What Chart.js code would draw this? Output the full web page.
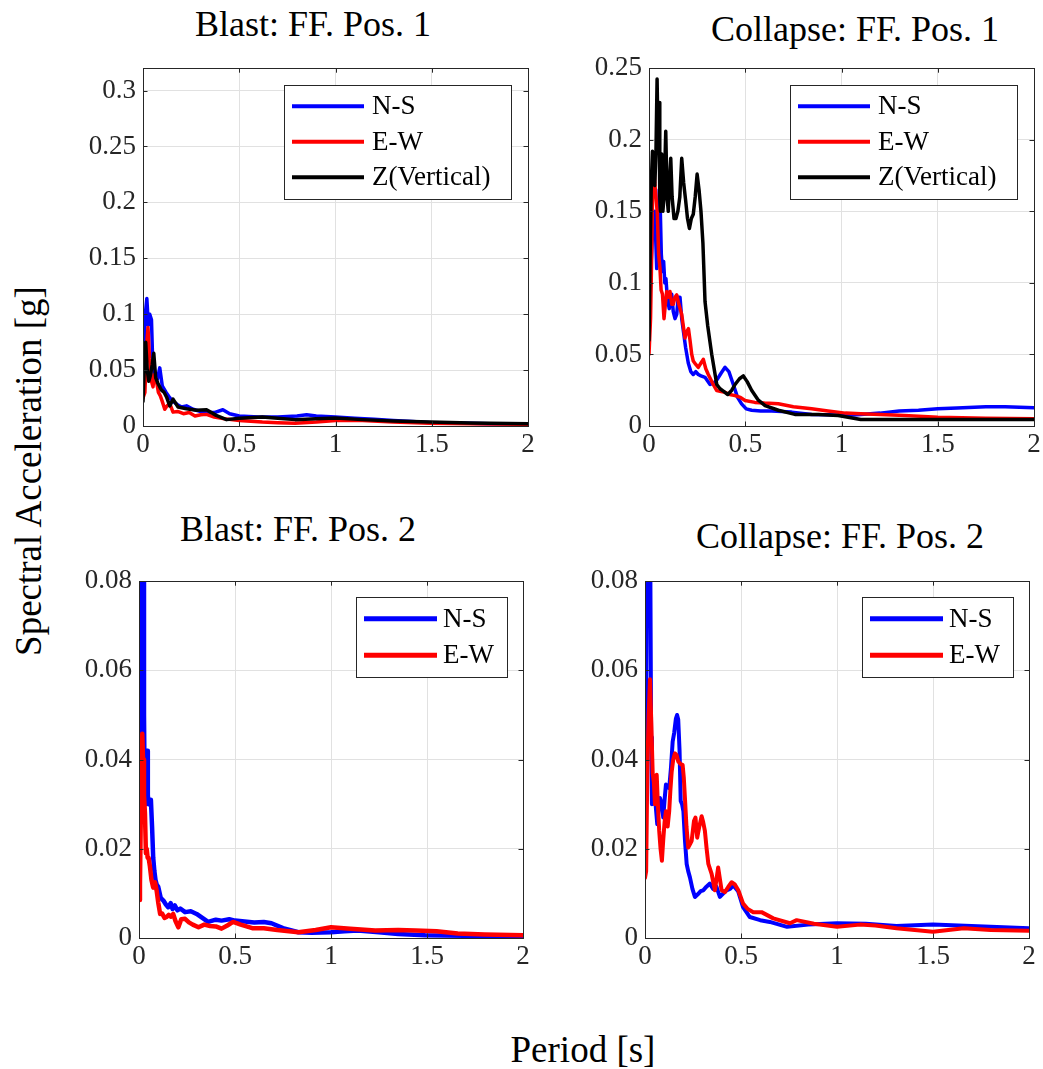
<!DOCTYPE html>
<html><head><meta charset="utf-8">
<script src="https://cdn.jsdelivr.net/npm/chart.js@4.4.1/dist/chart.umd.min.js"></script>
<style>
html,body{margin:0;padding:0;background:#fff;}
body{width:1043px;height:1069px;overflow:hidden;position:relative;font-family:"Liberation Serif","Times New Roman",serif;}
canvas{position:absolute;}
.t{position:absolute;font-size:36px;line-height:36px;white-space:nowrap;color:#000;transform:translateX(-50%);}
.ax{position:absolute;font-size:37px;line-height:37px;white-space:nowrap;color:#000;}
</style></head><body>
<div class="t" style="left:313px;top:6px">Blast: FF. Pos. 1</div>
<div class="t" style="left:855px;top:11px">Collapse: FF. Pos. 1</div>
<div class="t" style="left:298px;top:511px">Blast: FF. Pos. 2</div>
<div class="t" style="left:840px;top:518px">Collapse: FF. Pos. 2</div>
<div class="ax" style="left:28px;top:471px;transform:translate(-50%,-50%) rotate(-90deg)">Spectral Acceleration [g]</div>
<div class="ax" style="left:583px;top:1031px;transform:translateX(-50%)">Period [s]</div>
<script>
// ---------- tick labels ----------
const xTicks = [0, 0.5, 1, 1.5, 2];
const xTickLabels = ['0', '0.5', '1', '1.5', '2'];
const yTicksB1 = [0, 0.05, 0.1, 0.15, 0.2, 0.25, 0.3];
const yTickLabelsB1 = ['0', '0.05', '0.1', '0.15', '0.2', '0.25', '0.3'];
const yTicksC1 = [0, 0.05, 0.1, 0.15, 0.2, 0.25];
const yTickLabelsC1 = ['0', '0.05', '0.1', '0.15', '0.2', '0.25'];
const yTicksP2 = [0, 0.02, 0.04, 0.06, 0.08];
const yTickLabelsP2 = ['0', '0.02', '0.04', '0.06', '0.08'];
const seriesNames = ['N-S', 'E-W', 'Z(Vertical)'];

// ---------- Blast: FF. Pos. 1 ----------
const b1NS_T = [0, 0.005, 0.012, 0.02, 0.028, 0.035, 0.044, 0.05, 0.058, 0.066, 0.075, 0.087, 0.1, 0.12, 0.14, 0.156, 0.18, 0.2, 0.226, 0.26, 0.3, 0.33, 0.37, 0.415, 0.45, 0.5, 0.6, 0.7, 0.8, 0.85, 0.9, 1.0, 1.1, 1.2, 1.3, 1.4, 1.5, 1.6, 1.7, 1.8, 1.9, 2.0];
const b1NS_Sa = [0.045, 0.06, 0.1, 0.114, 0.09, 0.1, 0.095, 0.06, 0.045, 0.045, 0.042, 0.052, 0.036, 0.03, 0.025, 0.022, 0.019, 0.017, 0.018, 0.015, 0.013, 0.012, 0.012, 0.0145, 0.011, 0.009, 0.008, 0.008, 0.009, 0.010, 0.009, 0.008, 0.007, 0.006, 0.005, 0.004, 0.003, 0.003, 0.0025, 0.002, 0.002, 0.002];
const b1EW_T = [0, 0.01, 0.018, 0.026, 0.034, 0.044, 0.052, 0.06, 0.07, 0.08, 0.09, 0.1, 0.113, 0.125, 0.139, 0.156, 0.18, 0.21, 0.24, 0.27, 0.3, 0.33, 0.37, 0.416, 0.5, 0.62, 0.7, 0.79, 0.9, 1.0, 1.14, 1.3, 1.49, 1.7, 2.0];
const b1EW_Sa = [0.025, 0.03, 0.07, 0.088, 0.06, 0.04, 0.035, 0.046, 0.04, 0.03, 0.027, 0.022, 0.015, 0.018, 0.02, 0.0124, 0.013, 0.011, 0.012, 0.009, 0.01, 0.0104, 0.008, 0.0066, 0.005, 0.0035, 0.003, 0.0024, 0.0035, 0.005, 0.005, 0.0035, 0.0024, 0.002, 0.0015];
const b1Z_T = [0, 0.006, 0.014, 0.022, 0.03, 0.038, 0.048, 0.056, 0.066, 0.078, 0.096, 0.11, 0.122, 0.139, 0.156, 0.182, 0.226, 0.278, 0.33, 0.38, 0.434, 0.5, 0.62, 0.7, 0.79, 0.9, 1.0, 1.14, 1.3, 1.49, 1.7, 2.0];
const b1Z_Sa = [0.022, 0.05, 0.075, 0.05, 0.04, 0.045, 0.055, 0.065, 0.043, 0.038, 0.032, 0.03, 0.026, 0.018, 0.024, 0.017, 0.0154, 0.014, 0.0145, 0.0095, 0.0057, 0.007, 0.008, 0.007, 0.0057, 0.0065, 0.0071, 0.0057, 0.0045, 0.0035, 0.0027, 0.002];

// ---------- Collapse: FF. Pos. 1 ----------
const c1NS_T = [0, 0.01, 0.02, 0.03, 0.04, 0.047, 0.053, 0.058, 0.064, 0.07, 0.076, 0.082, 0.088, 0.095, 0.105, 0.112, 0.118, 0.126, 0.135, 0.144, 0.152, 0.161, 0.17, 0.18, 0.19, 0.204, 0.217, 0.23, 0.243, 0.256, 0.27, 0.291, 0.317, 0.335, 0.352, 0.375, 0.395, 0.415, 0.438, 0.46, 0.481, 0.505, 0.533, 0.58, 0.637, 0.741, 0.845, 0.93, 1.02, 1.1, 1.2, 1.3, 1.4, 1.5, 1.6, 1.75, 1.85, 2.0];
const c1NS_Sa = [0.06, 0.11, 0.14, 0.15, 0.11, 0.13, 0.165, 0.155, 0.12, 0.108, 0.115, 0.1, 0.103, 0.09, 0.082, 0.088, 0.092, 0.08, 0.075, 0.078, 0.09, 0.09, 0.075, 0.065, 0.055, 0.044, 0.038, 0.036, 0.038, 0.036, 0.035, 0.034, 0.029, 0.03, 0.032, 0.037, 0.041, 0.038, 0.029, 0.02, 0.0155, 0.012, 0.011, 0.0105, 0.0104, 0.0097, 0.0081, 0.0078, 0.0074, 0.008, 0.009, 0.0105, 0.011, 0.012, 0.0125, 0.0135, 0.0135, 0.0127];
const c1EW_T = [0, 0.008, 0.014, 0.02, 0.025, 0.03, 0.036, 0.043, 0.05, 0.057, 0.063, 0.07, 0.078, 0.085, 0.092, 0.1, 0.109, 0.118, 0.126, 0.135, 0.144, 0.155, 0.17, 0.178, 0.187, 0.196, 0.205, 0.213, 0.222, 0.23, 0.243, 0.256, 0.27, 0.282, 0.295, 0.308, 0.33, 0.352, 0.375, 0.395, 0.42, 0.447, 0.475, 0.499, 0.55, 0.6, 0.672, 0.75, 0.845, 0.93, 1.02, 1.1, 1.3, 1.5, 1.75, 2.0];
const c1EW_Sa = [0.05, 0.075, 0.12, 0.175, 0.187, 0.17, 0.16, 0.149, 0.12, 0.11, 0.095, 0.092, 0.075, 0.085, 0.094, 0.09, 0.094, 0.085, 0.085, 0.09, 0.0916, 0.085, 0.078, 0.07, 0.0615, 0.066, 0.068, 0.06, 0.05, 0.0454, 0.043, 0.041, 0.044, 0.0466, 0.04, 0.036, 0.03, 0.0247, 0.024, 0.0235, 0.022, 0.0212, 0.02, 0.0178, 0.0165, 0.016, 0.0155, 0.0135, 0.012, 0.0105, 0.009, 0.0086, 0.0075, 0.0062, 0.0055, 0.005];
const c1Z_T = [0, 0.006, 0.012, 0.018, 0.024, 0.03, 0.036, 0.042, 0.047, 0.052, 0.056, 0.06, 0.066, 0.072, 0.078, 0.087, 0.094, 0.1, 0.106, 0.113, 0.12, 0.13, 0.14, 0.15, 0.16, 0.17, 0.18, 0.19, 0.2, 0.21, 0.22, 0.23, 0.24, 0.25, 0.26, 0.27, 0.28, 0.291, 0.305, 0.326, 0.352, 0.369, 0.39, 0.409, 0.43, 0.447, 0.47, 0.49, 0.51, 0.533, 0.568, 0.603, 0.672, 0.758, 0.88, 0.983, 1.1, 1.3, 1.5, 1.75, 2.0];
const c1Z_Sa = [0.06, 0.12, 0.17, 0.192, 0.17, 0.168, 0.19, 0.2425, 0.2, 0.226, 0.16, 0.15, 0.19, 0.15, 0.16, 0.206, 0.16, 0.15, 0.17, 0.187, 0.16, 0.145, 0.145, 0.15, 0.16, 0.187, 0.17, 0.158, 0.145, 0.138, 0.145, 0.148, 0.16, 0.176, 0.165, 0.15, 0.128, 0.087, 0.07, 0.05, 0.029, 0.026, 0.024, 0.022, 0.025, 0.029, 0.033, 0.035, 0.031, 0.025, 0.018, 0.0143, 0.011, 0.0081, 0.0081, 0.0074, 0.0046, 0.0046, 0.0046, 0.0046, 0.0046];

// ---------- Blast: FF. Pos. 2 ----------
const b2NS_T = [0, 0.004, 0.008, 0.012, 0.018, 0.022, 0.026, 0.03, 0.034, 0.038, 0.042, 0.046, 0.05, 0.056, 0.062, 0.068, 0.074, 0.08, 0.086, 0.092, 0.1, 0.113, 0.127, 0.14, 0.152, 0.165, 0.175, 0.187, 0.2, 0.215, 0.24, 0.27, 0.3, 0.33, 0.36, 0.4, 0.43, 0.47, 0.5, 0.55, 0.6, 0.65, 0.69, 0.75, 0.83, 0.9, 1.0, 1.07, 1.14, 1.25, 1.35, 1.49, 1.7, 2.0];
const b2NS_Sa = [0.0175, 0.03, 0.06, 0.1, 0.115, 0.09, 0.05, 0.031, 0.03, 0.042, 0.042, 0.032, 0.03, 0.031, 0.031, 0.025, 0.018, 0.015, 0.013, 0.012, 0.0115, 0.009, 0.0084, 0.0075, 0.0069, 0.0078, 0.0065, 0.0073, 0.0062, 0.0066, 0.0058, 0.006, 0.0054, 0.0045, 0.0036, 0.0041, 0.0039, 0.0042, 0.0039, 0.0037, 0.0035, 0.0036, 0.0033, 0.0022, 0.0013, 0.0012, 0.0013, 0.0015, 0.0017, 0.0013, 0.0009, 0.0006, 0.0005, 0.0005];
const b2EW_T = [0, 0.005, 0.01, 0.014, 0.017, 0.021, 0.026, 0.031, 0.036, 0.04, 0.045, 0.05, 0.057, 0.065, 0.074, 0.083, 0.092, 0.1, 0.11, 0.12, 0.133, 0.144, 0.155, 0.165, 0.178, 0.19, 0.205, 0.22, 0.24, 0.26, 0.28, 0.31, 0.34, 0.37, 0.4, 0.43, 0.46, 0.49, 0.53, 0.59, 0.65, 0.72, 0.83, 0.92, 1.0, 1.1, 1.23, 1.35, 1.44, 1.55, 1.66, 1.8, 2.0];
const b2EW_Sa = [0.0085, 0.012, 0.03, 0.042, 0.0458, 0.04, 0.032, 0.028, 0.019, 0.02, 0.018, 0.018, 0.016, 0.013, 0.0113, 0.0125, 0.0106, 0.008, 0.0054, 0.0055, 0.0045, 0.0047, 0.0052, 0.0048, 0.0054, 0.0038, 0.0024, 0.0042, 0.0043, 0.0035, 0.003, 0.0024, 0.003, 0.0027, 0.0026, 0.0021, 0.0028, 0.0036, 0.003, 0.0022, 0.0022, 0.0018, 0.0013, 0.0018, 0.0024, 0.0021, 0.0017, 0.0018, 0.0017, 0.0015, 0.001, 0.0008, 0.0006];

// ---------- Collapse: FF. Pos. 2 ----------
const c2NS_T = [0, 0.006, 0.012, 0.02, 0.027, 0.032, 0.036, 0.041, 0.047, 0.055, 0.064, 0.071, 0.078, 0.087, 0.095, 0.102, 0.109, 0.118, 0.126, 0.135, 0.144, 0.152, 0.161, 0.167, 0.173, 0.18, 0.186, 0.193, 0.2, 0.208, 0.217, 0.225, 0.234, 0.247, 0.26, 0.275, 0.29, 0.303, 0.32, 0.338, 0.355, 0.372, 0.39, 0.408, 0.425, 0.443, 0.46, 0.485, 0.51, 0.546, 0.6, 0.65, 0.74, 0.85, 1.0, 1.15, 1.31, 1.5, 1.7, 2.0];
const c2NS_Sa = [0.0225, 0.05, 0.1, 0.12, 0.09, 0.045, 0.03, 0.035, 0.0344, 0.03, 0.0255, 0.029, 0.0314, 0.03, 0.027, 0.031, 0.0344, 0.034, 0.0336, 0.038, 0.044, 0.046, 0.0492, 0.05, 0.049, 0.042, 0.0307, 0.03, 0.0284, 0.022, 0.0166, 0.015, 0.0136, 0.011, 0.0092, 0.0098, 0.0105, 0.0107, 0.0115, 0.0122, 0.011, 0.0115, 0.0092, 0.01, 0.0107, 0.011, 0.0118, 0.0105, 0.007, 0.0047, 0.004, 0.0036, 0.0025, 0.003, 0.0033, 0.0032, 0.0027, 0.003, 0.0027, 0.0022];
const c2EW_T = [0, 0.006, 0.012, 0.019, 0.026, 0.033, 0.04, 0.046, 0.052, 0.061, 0.067, 0.074, 0.081, 0.088, 0.095, 0.102, 0.109, 0.118, 0.126, 0.132, 0.139, 0.147, 0.156, 0.165, 0.173, 0.185, 0.196, 0.202, 0.208, 0.216, 0.225, 0.234, 0.243, 0.255, 0.263, 0.272, 0.283, 0.295, 0.303, 0.312, 0.321, 0.33, 0.347, 0.364, 0.381, 0.399, 0.416, 0.434, 0.451, 0.468, 0.486, 0.511, 0.535, 0.564, 0.607, 0.668, 0.755, 0.79, 0.88, 1.0, 1.12, 1.2, 1.31, 1.5, 1.66, 1.8, 2.0];
const c2EW_Sa = [0.0135, 0.015, 0.037, 0.05, 0.058, 0.048, 0.037, 0.035, 0.03, 0.0366, 0.03, 0.024, 0.02, 0.0173, 0.022, 0.026, 0.0284, 0.025, 0.0284, 0.033, 0.0373, 0.04, 0.0414, 0.041, 0.0396, 0.039, 0.0388, 0.036, 0.0314, 0.025, 0.0203, 0.021, 0.0218, 0.0262, 0.027, 0.0225, 0.025, 0.0273, 0.026, 0.024, 0.02, 0.0166, 0.0144, 0.0107, 0.0158, 0.0107, 0.0103, 0.0115, 0.0125, 0.012, 0.0107, 0.0077, 0.0065, 0.0058, 0.0058, 0.0044, 0.0033, 0.004, 0.0032, 0.0025, 0.003, 0.0028, 0.0022, 0.0014, 0.0022, 0.0018, 0.0016];

// ---------- drawing ----------
const FONT = '"Liberation Serif", "Times New Roman", serif';
const AXC = '#262626';
const COLORS = ['#0000ff', '#ff0000', '#000000'];

function pts(T, S) { return T.map((t, i) => ({ x: t, y: S[i] })); }

const framePlugin = {
  id: 'frame',
  afterDraw(chart, args, opts) {
    const { ctx, chartArea: a, scales } = chart;
    ctx.save();
    ctx.strokeStyle = AXC;
    ctx.lineWidth = 1;
    ctx.beginPath();
    const tl = 4.5;
    scales.x.ticks.forEach(t => {
      const px = Math.round(scales.x.getPixelForValue(t.value)) + 0.5;
      ctx.moveTo(px, a.bottom); ctx.lineTo(px, a.bottom - tl);
      ctx.moveTo(px, a.top); ctx.lineTo(px, a.top + tl);
    });
    scales.y.ticks.forEach(t => {
      const py = Math.round(scales.y.getPixelForValue(t.value)) + 0.5;
      ctx.moveTo(a.left, py); ctx.lineTo(a.left + tl, py);
      ctx.moveTo(a.right, py); ctx.lineTo(a.right - tl, py);
    });
    ctx.stroke();
    ctx.strokeRect(Math.round(a.left) + 0.5, Math.round(a.top) + 0.5, Math.round(a.right - a.left), Math.round(a.bottom - a.top));
    const L = opts.legend;
    const bx = a.right - L.right - L.w, by = a.top + L.top;
    ctx.fillStyle = '#ffffff';
    ctx.fillRect(bx, by, L.w, L.h);
    ctx.strokeRect(Math.round(bx) + 0.5, Math.round(by) + 0.5, L.w, L.h);
    ctx.font = '27px ' + FONT;
    ctx.textBaseline = 'middle';
    ctx.textAlign = 'left';
    chart.data.datasets.forEach((ds, i) => {
      const y = by + L.row0 + i * L.rowGap;
      ctx.strokeStyle = ds.borderColor;
      ctx.lineWidth = L.lw;
      ctx.beginPath();
      ctx.moveTo(bx + L.lx0, y); ctx.lineTo(bx + L.lx1, y);
      ctx.stroke();
      ctx.fillStyle = '#000';
      ctx.fillText(ds.label, bx + L.tx, y + 1);
    });
    ctx.restore();
  }
};

function makeChart(area, yMax, yTicks, yLabels, series, legend, lw) {
  const PADT = 20, PADR = 14, YW = 80, XH = 45;
  const cv = document.createElement('canvas');
  const w = YW + (area.r - area.l) + PADR;
  const h = PADT + (area.b - area.t) + XH;
  cv.width = w; cv.height = h;
  cv.style.width = w + 'px'; cv.style.height = h + 'px';
  cv.style.left = (area.l - YW) + 'px';
  cv.style.top = (area.t - PADT) + 'px';
  document.body.appendChild(cv);
  const datasets = series.map((s, i) => ({
    label: seriesNames[i],
    data: pts(s[0], s[1]),
    borderColor: COLORS[i],
    borderWidth: lw,
    order: series.length - i,
    pointRadius: 0,
    tension: 0,
    fill: false,
    borderJoinStyle: 'round',
    borderCapStyle: 'round'
  }));
  new Chart(cv, {
    type: 'line',
    data: { datasets },
    options: {
      responsive: false,
      animation: false,
      devicePixelRatio: 1,
      layout: { padding: { top: PADT, right: PADR, left: 0, bottom: 0 } },
      plugins: { legend: { display: false }, tooltip: { enabled: false }, frame: { legend } },
      scales: {
        x: {
          type: 'linear', min: 0, max: 2,
          afterBuildTicks: sc => { sc.ticks = xTicks.map(v => ({ value: v })); },
          afterFit: sc => { sc.height = XH; },
          grid: { color: '#e1e1e1', lineWidth: 1, drawTicks: false },
          border: { display: false },
          ticks: { autoSkip: false, maxRotation: 0, padding: 3, color: AXC, font: { family: FONT, size: 27 },
                   callback: (v, i) => xTickLabels[i] }
        },
        y: {
          type: 'linear', min: 0, max: yMax,
          afterBuildTicks: sc => { sc.ticks = yTicks.map(v => ({ value: v })); },
          afterFit: sc => { sc.width = YW; },
          grid: { color: '#e1e1e1', lineWidth: 1, drawTicks: false },
          border: { display: false },
          ticks: { autoSkip: false, padding: 7, color: AXC, font: { family: FONT, size: 27 },
                   callback: (v, i) => yLabels[i] }
        }
      }
    },
    plugins: [framePlugin]
  });
}

const legend3 = { right: 17, top: 17, w: 227, h: 114, row0: 21, rowGap: 35.5, lx0: 8, lx1: 80, tx: 88, lw: 4 };
const legend2 = { right: 16, top: 16, w: 151, h: 80, row0: 21.5, rowGap: 36.6, lx0: 8, lx1: 81, tx: 87, lw: 5 };

makeChart({ l: 143, r: 528, t: 65, b: 426 }, 0.32, yTicksB1, yTickLabelsB1,
  [[b1NS_T, b1NS_Sa], [b1EW_T, b1EW_Sa], [b1Z_T, b1Z_Sa]], legend3, 3.5);
makeChart({ l: 649, r: 1034, t: 65, b: 426 }, 0.25, yTicksC1, yTickLabelsC1,
  [[c1NS_T, c1NS_Sa], [c1EW_T, c1EW_Sa], [c1Z_T, c1Z_Sa]], legend3, 3.5);
makeChart({ l: 139, r: 523, t: 578, b: 938 }, 0.08, yTicksP2, yTickLabelsP2,
  [[b2NS_T, b2NS_Sa], [b2EW_T, b2EW_Sa]], legend2, 4.5);
makeChart({ l: 645, r: 1029, t: 578, b: 938 }, 0.08, yTicksP2, yTickLabelsP2,
  [[c2NS_T, c2NS_Sa], [c2EW_T, c2EW_Sa]], legend2, 4);
</script>
</body></html>
